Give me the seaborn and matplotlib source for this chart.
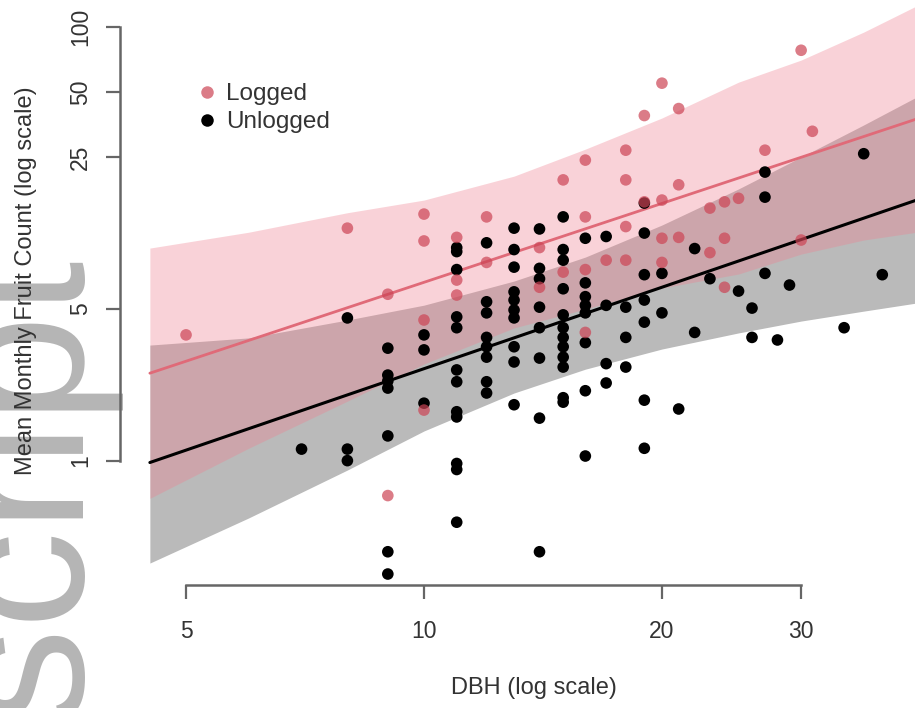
import numpy as np
import pandas as pd
import matplotlib
matplotlib.use("Agg")
import matplotlib.pyplot as plt
import seaborn as sns
from matplotlib.lines import Line2D
from matplotlib.ticker import NullLocator

# ---------------- data ----------------
logged_dbh = [5, 8, 9, 9, 10, 10, 10, 10, 11, 11, 11, 12, 12, 14, 14, 15, 15,
              16, 16, 16, 16, 17, 18, 18, 18, 18, 19, 19, 20, 20, 20, 20,
              21, 21, 21, 23, 23, 24, 24, 24, 25, 27, 30, 30, 31]
logged_fruit = [3.8, 11.8, 5.85, 0.69, 13.7, 10.3, 4.45, 1.71, 10.7, 6.8, 5.8,
                13.3, 8.2, 9.6, 6.3, 19.7, 7.4, 24.3, 13.3, 7.6, 3.9, 8.4,
                27, 19.7, 12.0, 8.4, 39, 15.6, 55, 15.9, 10.6, 8.2,
                42, 18.7, 10.7, 14.6, 9.1, 15.6, 10.6, 6.3, 16.2, 27, 78, 10.4, 33]

unlogged_dbh = ([7] + [8] * 3 + [9] * 7 + [10] * 3 + [11] * 12 + [12] * 8 +
                [13] * 10 + [14] * 8 + [15] * 12 + [16] * 8 + [17] * 4 +
                [18] * 3 + [19] * 7 + [20] * 2 + [21] + [22] * 2 + [23] +
                [25] + [26] * 2 + [27] * 3 + [28] + [29] + [34] + [36] + [38])
unlogged_fruit = [1.13,
                  4.55, 1.13, 1.0,
                  3.3, 2.48, 2.33, 2.16, 1.30, 0.38, 0.30,
                  3.8, 3.24, 1.84,
                  9.6, 9.2, 7.6, 4.6, 4.1, 2.62, 2.31, 1.68, 1.59, 0.97, 0.91, 0.52,
                  10.1, 5.4, 4.8, 3.7, 3.35, 3.0, 2.31, 2.05,
                  11.8, 9.4, 7.8, 6.0, 5.5, 4.95, 4.55, 3.35, 2.85, 1.81,
                  11.7, 7.7, 6.9, 5.1, 4.1, 2.97, 1.57, 0.38,
                  13.3, 9.4, 8.4, 6.2, 4.7, 4.1, 3.7, 3.35, 3.0, 2.7, 1.95, 1.86,
                  10.6, 6.6, 5.7, 5.2, 4.8, 3.5, 2.1, 1.05,
                  10.8, 5.2, 2.8, 2.28,
                  5.1, 3.7, 2.7,
                  15.4, 11.2, 7.2, 5.5, 4.35, 1.9, 1.14,
                  7.3, 4.8,
                  1.73,
                  9.5, 3.9,
                  6.9,
                  6.05,
                  5.05, 3.7,
                  21.4, 16.4, 7.3,
                  3.6,
                  6.45,
                  4.1,
                  26,
                  7.2]

# fitted lines and confidence bands
fit_dbh = [4.5, 42]
logged_fit = [2.53, 37.6]
unlogged_fit = [0.98, 15.9]

band_dbh = [4.5, 6, 8, 10, 13, 16, 20, 25, 30, 36, 42]
logged_hi = [9.55, 11.3, 13.9, 15.9, 20.5, 27.3, 38.0, 55.6, 70.3, 94.6, 125]
logged_lo = [0.67, 1.14, 1.88, 2.79, 4.09, 5.0, 6.25, 7.25, 8.96, 10.4, 11.3]
unlogged_hi = [3.41, 3.68, 4.45, 5.21, 6.73, 8.68, 12.2, 17.9, 25.1, 35.3, 47.5]
unlogged_lo = [0.337, 0.544, 0.905, 1.37, 2.05, 2.64, 3.27, 3.88, 4.40, 4.89, 5.33]

x_ticks = [5, 10, 20, 30]
x_tick_labels = ["5", "10", "20", "30"]
y_ticks = [1, 5, 25, 50, 100]
y_tick_labels = ["1", "5", "25", "50", "100"]
legend_labels = ["Logged", "Unlogged"]
x_title = "DBH (log scale)"
y_title = "Mean Monthly Fruit Count (log scale)"
watermark = "Manuscript"

# ---------------- style ----------------
sns.set_theme(style="white")
plt.rcParams['font.family'] = ['Liberation Sans', 'DejaVu Sans']

PINK_PT = '#cc4455'
PINK_LINE = '#e06a78'
AXIS_C = '#666666'
TEXT_C = '#333333'

W, H = 915, 708
fig = plt.figure(figsize=(W / 100, H / 100), dpi=100)
fig.patch.set_facecolor('white')

fig.text(68 / W, 1 - 244 / H, watermark, rotation=90, rotation_mode='anchor',
         ha='right', va='baseline', fontsize=140, color='#b5b5b5', zorder=-5,
         family='Liberation Sans')

ax = fig.add_axes([120 / W, (H - 585) / H, 795 / W, 585 / H])
ax.patch.set_alpha(0)
ax.set_xscale('log')
ax.set_yscale('log')
ax.set_xlim(4.125, 41.8)
ax.set_ylim(0.267, 133)

ax.fill_between(band_dbh, unlogged_lo, unlogged_hi, color='#8c8c8c', alpha=0.6,
                lw=0, zorder=1)
ax.fill_between(band_dbh, logged_lo, logged_hi, color='#f08090', alpha=0.35,
                lw=0, zorder=2)

sns.lineplot(x=fit_dbh, y=unlogged_fit, color='black', lw=2.2, ax=ax, zorder=3)
sns.lineplot(x=fit_dbh, y=logged_fit, color=PINK_LINE, lw=2.0, ax=ax, zorder=3)

sns.scatterplot(x=unlogged_dbh, y=unlogged_fruit, color='black', s=70,
                edgecolor='none', ax=ax, zorder=4)
sns.scatterplot(x=logged_dbh, y=logged_fruit, color=PINK_PT, alpha=0.7, s=70,
                edgecolor='none', ax=ax, zorder=5)

# axes styling (R-like)
for s in ['top', 'right']:
    ax.spines[s].set_visible(False)
for s in ['left', 'bottom']:
    ax.spines[s].set_color(AXIS_C)
    ax.spines[s].set_linewidth(1.8)
ax.spines['left'].set_bounds(1, 100)
ax.spines['bottom'].set_bounds(5, 30)

ax.set_xticks(x_ticks)
ax.set_xticklabels(x_tick_labels)
ax.set_yticks(y_ticks)
ax.set_yticklabels(y_tick_labels)
ax.xaxis.set_minor_locator(NullLocator())
ax.yaxis.set_minor_locator(NullLocator())
ax.tick_params(axis='both', which='major', direction='out', length=10, width=1.6,
               color=AXIS_C, labelcolor=TEXT_C, labelsize=16.5, left=True, bottom=True)
ax.tick_params(axis='x', pad=15)
ax.tick_params(axis='y', pad=10)
for lab in ax.get_yticklabels():
    lab.set_rotation(90)
    lab.set_va('center')

ax.set_xlabel(x_title, fontsize=17, color=TEXT_C)
ax.xaxis.set_label_coords(0.521, -0.157)
ax.set_ylabel(y_title, fontsize=17, color=TEXT_C)
ax.yaxis.set_label_coords(-0.104, 0.52)

handles = [Line2D([], [], marker='o', ls='', color=PINK_PT, alpha=0.7, ms=9, mec='none'),
           Line2D([], [], marker='o', ls='', color='black', ms=9, mec='none')]
leg = ax.legend(handles, legend_labels, loc='upper left',
                bbox_to_anchor=((196 - 120) / 795, (585 - 83) / 585),
                frameon=False, fontsize=17.5, handletextpad=0.35,
                labelspacing=0.25, borderaxespad=0, borderpad=0,
                handlelength=0.9)
for t in leg.get_texts():
    t.set_color(TEXT_C)

fig.savefig('out.png', dpi=100)
